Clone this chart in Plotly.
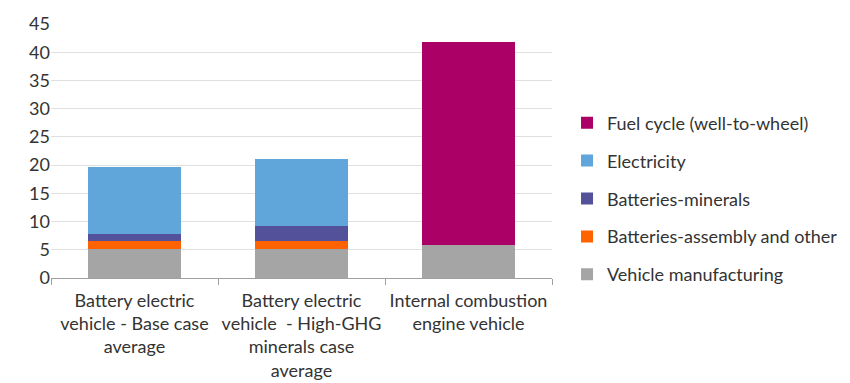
import plotly.graph_objects as go

categories = ["Battery electric<br>vehicle - Base case<br>average",
              "Battery electric<br>vehicle  - High-GHG<br>minerals case<br>average",
              "Internal combustion<br>engine vehicle"]
vehicle_manufacturing = [5.2, 5.2, 5.8]
batteries_assembly = [1.3, 1.3, 0]
batteries_minerals = [1.3, 2.75, 0]
electricity = [11.8, 11.8, 0]
fuel_cycle = [0, 0, 36.1]
y_ticks = [0, 5, 10, 15, 20, 25, 30, 35, 40, 45]

series = [
    ("Vehicle manufacturing", vehicle_manufacturing, "#A5A5A5"),
    ("Batteries-assembly and other", batteries_assembly, "#FF6200"),
    ("Batteries-minerals", batteries_minerals, "#525199"),
    ("Electricity", electricity, "#60A6DA"),
    ("Fuel cycle (well-to-wheel)", fuel_cycle, "#AB0066"),
]

fig = go.Figure()
n = len(series)
for i, (name, vals, col) in enumerate(series):
    fig.add_trace(go.Bar(x=categories, y=vals, name=name, marker_color=col,
                         marker_line_width=0, legendgroup=name, legendrank=n - i))

font = "Lato, 'Noto Sans', sans-serif"
fig.update_layout(
    barmode="stack",
    bargap=0.44,
    width=850, height=383,
    margin=dict(l=51, r=298, t=24, b=105, autoexpand=False),
    plot_bgcolor="white", paper_bgcolor="white",
    font=dict(family=font, size=18, color="#333333"),
    legend=dict(traceorder="grouped", x=1.03, xanchor="left", y=0.313, yanchor="middle",
                tracegroupgap=11.5, font=dict(size=18, color="#333333"),
                itemwidth=30),
    showlegend=True,
)
fig.update_yaxes(range=[0, 45], tickvals=y_ticks, showgrid=True, gridcolor="#E0E0E0",
                 gridwidth=1, zeroline=False, showline=False, ticks="", automargin=False,
                 tickfont=dict(size=18, color="#333333"))
fig.update_xaxes(showline=True, linecolor="#A0A0A0", linewidth=1, ticks="outside",
                 tickson="boundaries", tickcolor="#A0A0A0", ticklen=6, tickangle=0,
                 ticklabelstandoff=6,
                 automargin=False, tickfont=dict(size=18, color="#333333"))
fig.write_html("out.html")
